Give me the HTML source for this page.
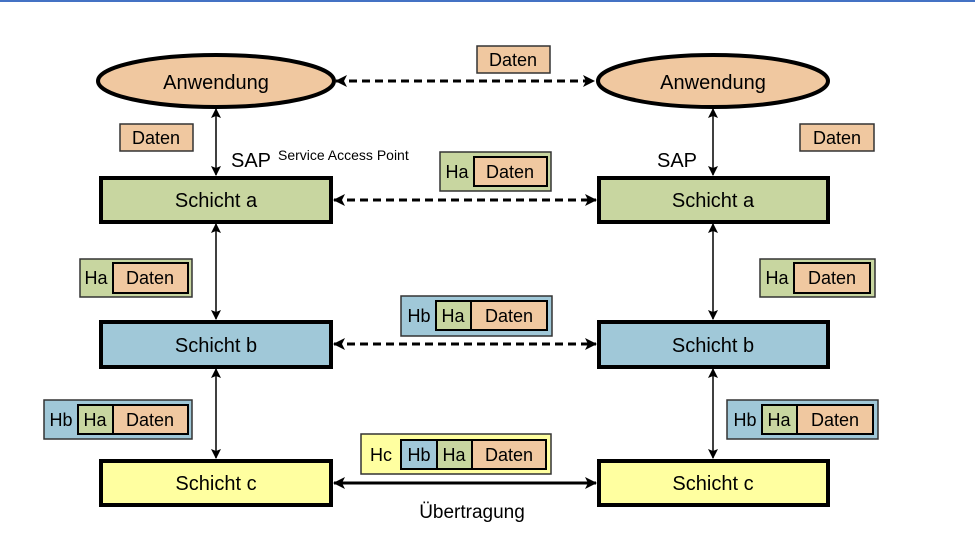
<!DOCTYPE html>
<html><head><meta charset="utf-8"><style>
html,body{margin:0;padding:0;background:#fff}
svg{display:block;font-family:"Liberation Sans",sans-serif}
</style></head><body>
<svg width="975" height="541" viewBox="0 0 975 541" xmlns="http://www.w3.org/2000/svg">
<defs>
<marker id="a" markerWidth="12" markerHeight="12" refX="11" refY="6" orient="auto-start-reverse" markerUnits="userSpaceOnUse"><path d="M0,0 L12,6 L0,12 L3,6 Z" fill="#000"/></marker>
<marker id="b" markerWidth="10" markerHeight="10" refX="9" refY="5" orient="auto-start-reverse" markerUnits="userSpaceOnUse"><path d="M0,0 L10,5 L0,10 L2,5 Z" fill="#000"/></marker>
</defs>
<rect x="0" y="0" width="975" height="2" fill="#4472c4"/>
<ellipse cx="216" cy="81" rx="118" ry="26" fill="#f0c8a0" stroke="#000" stroke-width="4"/>
<ellipse cx="713" cy="81" rx="115" ry="26" fill="#f0c8a0" stroke="#000" stroke-width="4"/>
<text x="216" y="89" font-size="20" text-anchor="middle">Anwendung</text>
<text x="713" y="89" font-size="20" text-anchor="middle">Anwendung</text>
<g stroke="#000" stroke-width="4">
<rect x="101" y="178" width="230" height="44" fill="#c8d6a0"/>
<rect x="599" y="178" width="229" height="44" fill="#c8d6a0"/>
<rect x="101" y="322" width="230" height="45" fill="#a0c8d8"/>
<rect x="599" y="322" width="229" height="45" fill="#a0c8d8"/>
<rect x="101" y="461" width="230" height="44" fill="#ffffa0"/>
<rect x="599" y="461" width="229" height="44" fill="#ffffa0"/>
</g>
<g font-size="20" text-anchor="middle">
<text x="216" y="207">Schicht a</text><text x="713" y="207">Schicht a</text>
<text x="216" y="352">Schicht b</text><text x="713" y="352">Schicht b</text>
<text x="216" y="490">Schicht c</text><text x="713" y="490">Schicht c</text>
</g>
<g stroke="#000" stroke-width="1.5">
<line x1="216" y1="109" x2="216" y2="175" marker-start="url(#b)" marker-end="url(#b)"/>
<line x1="216" y1="224" x2="216" y2="319" marker-start="url(#b)" marker-end="url(#b)"/>
<line x1="216" y1="369" x2="216" y2="458" marker-start="url(#b)" marker-end="url(#b)"/>
<line x1="713" y1="109" x2="713" y2="175" marker-start="url(#b)" marker-end="url(#b)"/>
<line x1="713" y1="224" x2="713" y2="319" marker-start="url(#b)" marker-end="url(#b)"/>
<line x1="713" y1="369" x2="713" y2="458" marker-start="url(#b)" marker-end="url(#b)"/>
</g>
<g stroke="#000" stroke-width="3">
<line x1="336" y1="81" x2="594" y2="81" stroke-dasharray="8,5" marker-start="url(#a)" marker-end="url(#a)"/>
<line x1="334" y1="200" x2="596" y2="200" stroke-dasharray="8,5" marker-start="url(#a)" marker-end="url(#a)"/>
<line x1="334" y1="344" x2="596" y2="344" stroke-dasharray="8,5" marker-start="url(#a)" marker-end="url(#a)"/>
<line x1="334" y1="483" x2="596" y2="483" marker-start="url(#a)" marker-end="url(#a)"/>
</g>
<text x="472" y="518" font-size="19" text-anchor="middle">Übertragung</text>
<text x="231" y="167" font-size="20">SAP</text>
<text x="278" y="160" font-size="14">Service Access Point</text>
<text x="657" y="167" font-size="20">SAP</text>
<g font-size="18" stroke-width="1.5">
<rect x="477" y="46" width="73" height="27" fill="#f0c8a0" stroke="#333"/><text x="513" y="66" text-anchor="middle">Daten</text>
<rect x="120" y="124" width="73" height="27" fill="#f0c8a0" stroke="#333"/><text x="156" y="144" text-anchor="middle">Daten</text>
<rect x="800" y="124" width="74" height="27" fill="#f0c8a0" stroke="#333"/><text x="837" y="144" text-anchor="middle">Daten</text>

<rect x="440" y="152" width="111" height="39" fill="#c8d6a0" stroke="#333"/>
<rect x="474" y="157" width="73" height="29" fill="#f0c8a0" stroke="#000" stroke-width="2"/>
<text x="457" y="178" text-anchor="middle">Ha</text><text x="510" y="178" text-anchor="middle">Daten</text>

<rect x="80" y="259" width="112" height="38" fill="#c8d6a0" stroke="#333"/>
<rect x="113" y="263" width="75" height="30" fill="#f0c8a0" stroke="#000" stroke-width="2"/>
<text x="96" y="284" text-anchor="middle">Ha</text><text x="150" y="284" text-anchor="middle">Daten</text>

<rect x="760" y="259" width="115" height="38" fill="#c8d6a0" stroke="#333"/>
<rect x="794" y="263" width="76" height="30" fill="#f0c8a0" stroke="#000" stroke-width="2"/>
<text x="777" y="284" text-anchor="middle">Ha</text><text x="832" y="284" text-anchor="middle">Daten</text>

<rect x="401" y="296" width="151" height="40" fill="#a0c8d8" stroke="#333"/>
<rect x="436" y="301" width="35" height="29" fill="#c8d6a0" stroke="#000" stroke-width="2"/>
<rect x="471" y="301" width="76" height="29" fill="#f0c8a0" stroke="#000" stroke-width="2"/>
<text x="419" y="322" text-anchor="middle">Hb</text><text x="453" y="322" text-anchor="middle">Ha</text><text x="509" y="322" text-anchor="middle">Daten</text>

<rect x="44" y="400" width="148" height="39" fill="#a0c8d8" stroke="#333"/>
<rect x="78" y="405" width="35" height="29" fill="#c8d6a0" stroke="#000" stroke-width="2"/>
<rect x="113" y="405" width="75" height="29" fill="#f0c8a0" stroke="#000" stroke-width="2"/>
<text x="61" y="426" text-anchor="middle">Hb</text><text x="95" y="426" text-anchor="middle">Ha</text><text x="150" y="426" text-anchor="middle">Daten</text>

<rect x="727" y="400" width="151" height="39" fill="#a0c8d8" stroke="#333"/>
<rect x="762" y="405" width="35" height="29" fill="#c8d6a0" stroke="#000" stroke-width="2"/>
<rect x="797" y="405" width="76" height="29" fill="#f0c8a0" stroke="#000" stroke-width="2"/>
<text x="745" y="426" text-anchor="middle">Hb</text><text x="779" y="426" text-anchor="middle">Ha</text><text x="835" y="426" text-anchor="middle">Daten</text>

<rect x="361" y="434" width="190" height="40" fill="#ffffa0" stroke="#333"/>
<rect x="401" y="440" width="36" height="29" fill="#a0c8d8" stroke="#000" stroke-width="2"/>
<rect x="437" y="440" width="35" height="29" fill="#c8d6a0" stroke="#000" stroke-width="2"/>
<rect x="472" y="440" width="74" height="29" fill="#f0c8a0" stroke="#000" stroke-width="2"/>
<text x="381" y="461" text-anchor="middle">Hc</text><text x="419" y="461" text-anchor="middle">Hb</text><text x="454" y="461" text-anchor="middle">Ha</text><text x="509" y="461" text-anchor="middle">Daten</text>
</g>
</svg>
</body></html>
